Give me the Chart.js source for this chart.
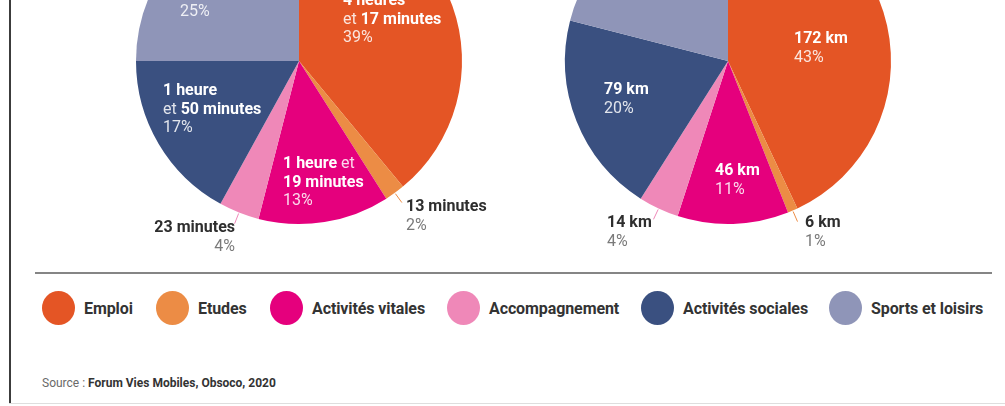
<!DOCTYPE html>
<html lang="fr">
<head>
<meta charset="utf-8">
<title>Temps et distances par motif</title>
<script src="https://cdn.jsdelivr.net/npm/chart.js@4"></script>
<style>
  html, body { margin: 0; padding: 0; background: #fff; }
  #page { position: relative; width: 1005px; height: 406px; overflow: hidden; font-family: Roboto, "Noto Sans", sans-serif; }
  #tempsChart { position: absolute; left: 99px; top: -139px; }
  #distanceChart { position: absolute; left: 528px; top: -139px; }
  .frame-left { position: absolute; left: 9px; top: 0; width: 1.5px; height: 404px; background: #3c3c3c; }
  .frame-bottom { position: absolute; left: 9px; top: 403px; width: 996px; height: 1px; background: #dedede; }
  .rule { position: absolute; left: 35px; top: 272px; width: 957px; height: 2px; background: #858585; }
  .legend-item { position: absolute; top: 291px; height: 34px; display: flex; align-items: center; }
  .legend-item span.dot { width: 33px; height: 34px; border-radius: 50%; margin-right: 9px; }
  .legend-item span.txt { font-size: 16px; font-weight: 700; color: #333; letter-spacing: -0.1px; }
  .source { position: absolute; left: 42px; top: 376px; font-size: 12px; color: #6a6a6a; }
  .source b { color: #333; }
</style>
</head>
<body>
<div id="page">
  <div class="frame-left"></div>
  <div class="frame-bottom"></div>
  <canvas id="tempsChart" width="400" height="400"></canvas>
  <canvas id="distanceChart" width="400" height="400"></canvas>
  <div class="rule"></div>
  <div id="legend"></div>
  <div class="source">Source : <b>Forum Vies Mobiles, Obsoco, 2020</b></div>
</div>

<script>
// motifs de déplacement
const categories = ["Emploi", "Etudes", "Activités vitales", "Accompagnement", "Activités sociales", "Sports et loisirs"];
const colors = ["#e45525", "#ec8c45", "#e5007d", "#ef88b8", "#3a5080", "#8f95b8"];

// part du temps (%) et texte de chaque part
const tempsPct = [39, 2, 13, 4, 17, 25];
const tempsText = [
  ["**4 heures**", "et **17 minutes**"],
  ["**13 minutes**"],
  ["**1 heure** et", "**19 minutes**"],
  ["**23 minutes**"],
  ["**1 heure**", "et **50 minutes**"],
  [],
];

// part des kilomètres (%) et distances
const distancePct = [43, 1, 11, 4, 20, 21];
const distanceKm = [172, 6, 46, 14, 79, null];

// placement des étiquettes (décalage par rapport au centre)
const tempsPos = [
  { dx: 44, dy: -60 },
  { dx: 107, dy: 146, out: true },
  { dx: -16, dy: 103 },
  { dx: -64, dy: 167, out: true, align: "right" },
  { dx: -136, dy: 30 },
  { dx: -119, dy: -49 },
];
const distancePos = [
  { dx: 66, dy: -22 },
  { dx: 77, dy: 162, out: true },
  { dx: -13, dy: 110 },
  { dx: -121, dy: 162, out: true },
  { dx: -124, dy: 29 },
  null,
];

const legendLeft = [42, 156, 270, 447, 641, 829];

// légende commune
const legendEl = document.getElementById("legend");
categories.forEach(function (cat, i) {
  const item = document.createElement("div");
  item.className = "legend-item";
  item.style.left = legendLeft[i] + "px";
  item.innerHTML = '<span class="dot" style="background:' + colors[i] + '"></span><span class="txt">' + cat + "</span>";
  legendEl.appendChild(item);
});

function drawRich(ctx, line, x, y, color, align) {
  const parts = line.split("**");
  let width = 0;
  parts.forEach(function (p, k) {
    ctx.font = (k % 2 ? "700 " : "400 ") + "16px Roboto";
    width += ctx.measureText(p).width;
  });
  let cx = align === "right" ? x - width : x;
  parts.forEach(function (p, k) {
    ctx.font = (k % 2 ? "700 " : "400 ") + "16px Roboto";
    ctx.fillStyle = k % 2 ? color.bold : color.light;
    ctx.fillText(p, cx, y);
    cx += ctx.measureText(p).width;
  });
}

function labelPlugin(texts, pcts, positions) {
  return {
    id: "sliceLabels",
    afterDatasetsDraw(chart) {
      const ctx = chart.ctx;
      const arcs = chart.getDatasetMeta(0).data;
      ctx.save();
      ctx.textBaseline = "middle";
      ctx.textAlign = "left";
      arcs.forEach(function (arc, i) {
        const pos = positions[i];
        if (!pos) return;
        const cx = arc.x, cy = arc.y;
        const palette = pos.out
          ? { bold: "#2e2e2e", light: "#2e2e2e", pct: "#7a7a7a" }
          : { bold: "#ffffff", light: "rgba(255,255,255,0.85)", pct: "rgba(255,255,255,0.85)" };

        if (pos.out) {
          const mid = (arc.startAngle + arc.endAngle) / 2;
          const r = arc.outerRadius;
          ctx.strokeStyle = colors[i];
          ctx.lineWidth = 1;
          ctx.beginPath();
          ctx.moveTo(cx + (r + 1) * Math.cos(mid), cy + (r + 1) * Math.sin(mid));
          ctx.lineTo(cx + (r + 12) * Math.cos(mid), cy + (r + 12) * Math.sin(mid));
          ctx.stroke();
        }

        const lines = texts[i].slice();
        lines.push(pcts[i] + "%");
        lines.forEach(function (line, k) {
          const y = cy + pos.dy + k * 18.5;
          if (k === lines.length - 1) {
            ctx.font = "400 16px Roboto";
            ctx.fillStyle = palette.pct;
            ctx.textAlign = pos.align || "left";
            ctx.fillText(line, cx + pos.dx, y);
            ctx.textAlign = "left";
          } else {
            drawRich(ctx, line, cx + pos.dx, y, palette, pos.align);
          }
        });
      });
      ctx.restore();
    },
  };
}

function makePie(id, values, texts, positions) {
  return new Chart(document.getElementById(id), {
    type: "pie",
    data: {
      labels: categories,
      datasets: [
        {
          data: values,
          backgroundColor: colors,
          borderWidth: 0,
        },
      ],
    },
    options: {
      responsive: false,
      animation: false,
      devicePixelRatio: 1,
      layout: { padding: 37 },
      plugins: {
        legend: { display: false },
        tooltip: { enabled: false },
      },
    },
    plugins: [labelPlugin(texts, values, positions)],
  });
}

const distanceText = distanceKm.map(function (km) {
  return km === null ? [] : ["**" + km + " km**"];
});

makePie("tempsChart", tempsPct, tempsText, tempsPos);
makePie("distanceChart", distancePct, distanceText, distancePos);
</script>
</body>
</html>
